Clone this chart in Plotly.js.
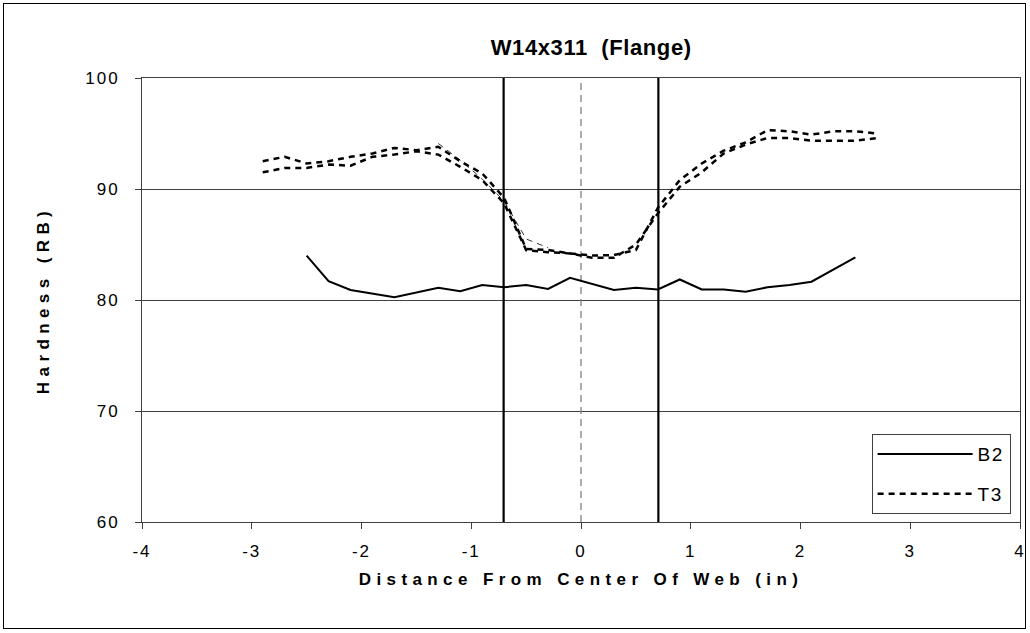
<!DOCTYPE html>
<html>
<head>
<meta charset="utf-8">
<script src="https://cdn.plot.ly/plotly-3.0.1.min.js"></script>
<style>
  html, body { margin: 0; padding: 0; background: #fff; }
  #wrap { position: relative; width: 1030px; height: 633px; }
  #chart { position: absolute; left: 0; top: 0; width: 1030px; height: 633px; }
  #frame { position: absolute; left: 3px; top: 3px; width: 1023px; height: 626px;
           border: 1px solid #000; box-sizing: border-box; pointer-events: none; }
  .xtitle, .ytitle { letter-spacing: 5.4px; }
  .gtitle { letter-spacing: 0.6px; }
  .xtick text, .ytick text { letter-spacing: 2px; }
  .legendtext { letter-spacing: 1.5px; }
</style>
</head>
<body>
<div id="wrap">
  <div id="chart"></div>
  <div id="frame"></div>
</div>
<script>
// Hardness traverse across the flange of a W14x311 section
const b2X = [-2.5, -2.3, -2.1, -1.7, -1.3, -1.1, -0.9, -0.7, -0.5, -0.3, -0.1, 0.3, 0.5, 0.7, 0.9, 1.1, 1.3, 1.5, 1.7, 1.9, 2.1, 2.5];
const b2Y = [84.0, 81.7, 80.9, 80.25, 81.1, 80.8, 81.35, 81.15, 81.35, 81.0, 82.0, 80.9, 81.1, 80.95, 81.85, 80.95, 80.95, 80.75, 81.15, 81.35, 81.65, 83.85];

const t3X = [-2.9, -2.7, -2.5, -2.3, -2.1, -1.9, -1.7, -1.5, -1.3, -1.1, -0.9, -0.7, -0.5, -0.3, -0.1, 0.1, 0.3, 0.5, 0.7, 0.9, 1.1, 1.3, 1.5, 1.7, 1.9, 2.1, 2.3, 2.5, 2.7];
const t3YA = [92.5, 92.9, 92.3, 92.5, 92.9, 93.2, 93.7, 93.5, 93.8, 92.5, 91.4, 89.2, 84.6, 84.5, 84.2, 84.0, 84.05, 84.5, 88.3, 90.8, 92.3, 93.45, 94.2, 95.3, 95.2, 94.9, 95.2, 95.2, 95.0];
const t3YB = [91.5, 91.9, 91.9, 92.2, 92.1, 92.9, 93.1, 93.4, 93.1, 92.0, 90.8, 88.7, 84.5, 84.3, 84.2, 83.8, 83.8, 85.0, 87.8, 90.2, 91.5, 93.2, 94.0, 94.6, 94.6, 94.35, 94.35, 94.35, 94.6];

// thin repeat reading through the transition zone
const t3cX = [-1.3, -1.1, -0.9, -0.7, -0.5, -0.3];
const t3cY = [94.1, 92.6, 90.9, 88.9, 85.5, 84.7];

// web faces (web thickness 1.41 in) and web centreline
const webFaces = [-0.705, 0.705];
const webCenter = 0;
const yRange = [60, 100];

const xTicks = [-4, -3, -2, -1, 0, 1, 2, 3, 4];
const yTicks = [60, 70, 80, 90, 100];

const FONT = 'Liberation Sans, Arial, sans-serif';

const traces = [];

// web face lines
webFaces.forEach(function (xf) {
  traces.push({
    x: [xf, xf], y: yRange, mode: 'lines', showlegend: false, hoverinfo: 'skip',
    line: { color: '#000', width: 2.2 }
  });
});
// centreline
traces.push({
  x: [webCenter, webCenter], y: yRange, mode: 'lines', showlegend: false, hoverinfo: 'skip',
  line: { color: '#808080', width: 1.3, dash: '7px,5px' }
});

traces.push({
  x: b2X, y: b2Y, mode: 'lines', name: 'B2', legendgroup: 'b2',
  line: { color: '#000', width: 2 }
});
traces.push({
  x: t3X, y: t3YA, mode: 'lines', name: 'T3', legendgroup: 't3',
  line: { color: '#000', width: 2.5, dash: '6px,5px' }
});
traces.push({
  x: t3X, y: t3YB, mode: 'lines', name: 'T3', legendgroup: 't3', showlegend: false,
  line: { color: '#000', width: 2.5, dash: '6px,5px' }
});
traces.push({
  x: t3cX, y: t3cY, mode: 'lines', name: 'T3', legendgroup: 't3', showlegend: false,
  line: { color: '#000', width: 0.8, dash: '6px,5px' }
});

const layout = {
  width: 1030, height: 633,
  margin: { l: 142, r: 10, t: 78, b: 111, pad: 0 },
  paper_bgcolor: 'rgba(0,0,0,0)',
  plot_bgcolor: '#fff',
  font: { family: FONT, color: '#000', size: 17 },
  title: {
    text: 'W14x311 \u00a0(Flange)',
    font: { family: FONT, size: 22, weight: 'bold', color: '#000' },
    x: 0.574, xref: 'container', xanchor: 'center',
    y: 0.925, yref: 'container', yanchor: 'middle'
  },
  xaxis: {
    range: [-4, 4], tickvals: xTicks, ticktext: xTicks.map(String),
    showgrid: false, zeroline: false,
    showline: true, mirror: true, linecolor: '#404040', linewidth: 1,
    ticks: 'outside', ticklen: 6, tickcolor: '#404040', tickwidth: 1,
    ticklabelstandoff: 8,
    tickfont: { family: FONT, size: 17 },
    title: { text: 'Distance From Center Of Web (in)', standoff: 12,
             font: { family: FONT, size: 17, weight: 'bold' } },
    fixedrange: true
  },
  yaxis: {
    range: yRange, tickvals: yTicks, ticktext: yTicks.map(String),
    showgrid: true, gridcolor: '#404040', gridwidth: 1, zeroline: false,
    showline: true, mirror: true, linecolor: '#404040', linewidth: 1,
    ticks: 'outside', ticklen: 6, tickcolor: '#404040', tickwidth: 1,
    ticklabelstandoff: 12,
    tickfont: { family: FONT, size: 17 },
    title: { text: 'Hardness (RB)', standoff: 31,
             font: { family: FONT, size: 17, weight: 'bold' } },
    fixedrange: true
  },
  showlegend: true,
  legend: {
    x: 0.831, xanchor: 'left', y: 0.198, yanchor: 'top',
    bgcolor: '#fff', bordercolor: '#404040', borderwidth: 1,
    font: { family: FONT, size: 19, color: '#000' },
    traceorder: 'grouped', tracegroupgap: 12, itemwidth: 95
  }
};

Plotly.newPlot('chart', traces, layout, { displayModeBar: false, staticPlot: true });
</script>
</body>
</html>
